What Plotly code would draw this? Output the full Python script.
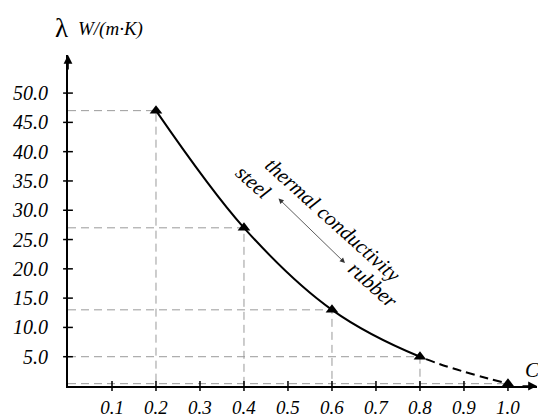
import plotly.graph_objects as go

# Data
C_vals = [0.2, 0.4, 0.6, 0.8, 1.0]
lam_vals = [47.0, 27.0, 13.0, 5.0, 0.4]
x_ticks = [0.1, 0.2, 0.3, 0.4, 0.5, 0.6, 0.7, 0.8, 0.9, 1.0]
x_tick_labels = ["0.1", "0.2", "0.3", "0.4", "0.5", "0.6", "0.7", "0.8", "0.9", "1.0"]
y_ticks = [5, 10, 15, 20, 25, 30, 35, 40, 45, 50]
y_tick_labels = ["5.0", "10.0", "15.0", "20.0", "25.0", "30.0", "35.0", "40.0", "45.0", "50.0"]

OFF = 8  # default page body margin
W, H = 546 - OFF, 417 - OFF
L, R, T, B = 68 - OFF, 9, 55 - OFF, 31
X_MAX = 1.066
Y_MAX = 56.5
FONT = "Liberation Serif"

def px(xp):
    return (xp - OFF - L) / (W - L - R)

def py(yp):
    return (H - B - (yp - OFF)) / (H - T - B)

fig = go.Figure()

# guide lines (gray dashed)
gx, gy = [], []
for c, v in zip(C_vals, lam_vals):
    gx += [0, c, c, None]
    gy += [v, v, 0, None]
fig.add_trace(go.Scatter(x=gx, y=gy, mode="lines",
                         line=dict(color="#9a9a9a", width=1, dash="8px,5px"),
                         hoverinfo="skip", showlegend=False))

# one smooth curve: solid over the measured part (first long dash), dashed afterwards
solid_len = 369
dash_pattern = f"{solid_len}px," + ",".join(["5px,9px"] * 9) + ",5px,400px"
fig.add_trace(go.Scatter(x=C_vals, y=lam_vals, mode="lines",
                         line=dict(color="black", width=2, dash=dash_pattern, shape="spline"),
                         showlegend=False))
# markers
fig.add_trace(go.Scatter(x=C_vals, y=lam_vals, mode="markers",
                         marker=dict(symbol="triangle-up", size=11, color="black"),
                         cliponaxis=False, showlegend=False))

# crossing tick marks
fig.add_trace(go.Scatter(x=x_ticks, y=[0] * len(x_ticks), mode="markers",
                         marker=dict(symbol="line-ns", size=7, line=dict(color="black", width=1.5)),
                         cliponaxis=False, hoverinfo="skip", showlegend=False))
fig.add_trace(go.Scatter(x=[0] * len(y_ticks), y=y_ticks, mode="markers",
                         marker=dict(symbol="line-ew", size=7, line=dict(color="black", width=1.5)),
                         cliponaxis=False, hoverinfo="skip", showlegend=False))

tickfont_x = dict(family=FONT, size=19, color="black", style="italic")
tickfont_y = dict(family=FONT, size=20, color="black", style="italic")

fig.update_xaxes(range=[0, X_MAX], showgrid=False, zeroline=False, automargin=False,
                 showline=True, linecolor="black", linewidth=2,
                 tickvals=x_ticks, ticktext=x_tick_labels, ticks="",
                 tickfont=tickfont_x, ticklabelstandoff=3)
fig.update_yaxes(range=[0, Y_MAX], showgrid=False, zeroline=False, automargin=False,
                 showline=True, linecolor="black", linewidth=2,
                 tickvals=y_ticks, ticktext=y_tick_labels, ticks="",
                 tickfont=tickfont_y, ticklabelstandoff=14)

def label(x, y, text, size, italic=True, angle=0, xanchor="center"):
    f = dict(family=FONT, size=size, color="black")
    if italic:
        f["style"] = "italic"
    return dict(x=px(x), y=py(y), xref="paper", yref="paper", text=text, showarrow=False,
                textangle=angle, font=f, xanchor=xanchor, yanchor="middle")

annotations = [
    # axis arrowheads
    dict(x=0, y=Y_MAX, xref="x", yref="y", ax=0, ay=16,
         text="", showarrow=True, arrowhead=2, arrowsize=1.1, arrowwidth=1.6, arrowcolor="black"),
    dict(x=X_MAX, y=0, xref="x", yref="y", ax=-16, ay=0,
         text="", showarrow=True, arrowhead=2, arrowsize=1.1, arrowwidth=1.6, arrowcolor="black"),
    # axis titles
    label(61, 28, "λ", 27, italic=False),
    label(76, 29, "W/(m·K)", 19, xanchor="left"),
    label(532, 370, "C", 21),
    # descriptive labels
    label(333, 220, "thermal conductivity", 21, angle=42),
    label(253, 182, "steel", 21, angle=42),
    label(373, 285, "rubber", 21, angle=42),
    # double arrow
    dict(x=px(345), y=py(263), xref="x domain", yref="y domain",
         ax=px(277), ay=py(197), axref="x domain", ayref="y domain",
         text="", showarrow=True, arrowside="end+start", arrowhead=2, arrowsize=1.3,
         arrowwidth=0.8, arrowcolor="#333333"),
]

fig.update_layout(width=W, height=H, margin=dict(l=L, r=R, t=T, b=B, autoexpand=False),
                  plot_bgcolor="white", paper_bgcolor="white",
                  font=dict(family=FONT, color="black"),
                  annotations=annotations, showlegend=False)

fig.write_html("out.html")
